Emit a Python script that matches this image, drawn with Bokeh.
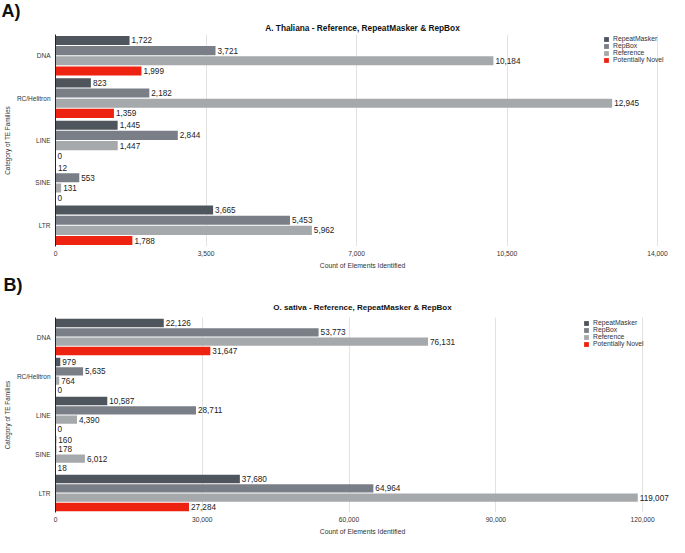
from bokeh.plotting import figure
from bokeh.models import (ColumnDataSource, LabelSet, Title, FactorRange, Range1d,
                          FixedTicker, NumeralTickFormatter)
from bokeh.core.properties import value
from bokeh.transform import dodge
from bokeh.layouts import column
from bokeh.embed import file_html
from bokeh.resources import INLINE

categories = ["DNA", "RC/Helitron", "LINE", "SINE", "LTR"]
series_names = ["RepeatMasker", "RepBox", "Reference", "Potentially Novel"]
colors = ["#4f555d", "#7a7f87", "#a6a9ab", "#ee2211"]

a_repeatmasker = [1722, 823, 1445, 12, 3665]
a_repbox = [3721, 2182, 2844, 553, 5453]
a_reference = [10184, 12945, 1447, 131, 5962]
a_novel = [1999, 1359, 0, 0, 1788]
a_ticks = [0, 3500, 7000, 10500, 14000]
a_title = "A. Thaliana - Reference, RepeatMasker & RepBox"

b_repeatmasker = [22126, 979, 10587, 160, 37680]
b_repbox = [53773, 5635, 28711, 178, 64964]
b_reference = [76131, 764, 4390, 6012, 119007]
b_novel = [31647, 0, 0, 18, 27284]
b_ticks = [0, 30000, 60000, 90000, 120000]
b_title = "O. sativa - Reference, RepeatMasker & RepBox"

FONT = "Liberation Sans"
offsets = [0.36, 0.12, -0.12, -0.36]
BAR_H = 0.215


def make_panel(letter, title, series, ticks, x_end, height, border_left,
               letter_standoff, title_standoff, title_size, legend_loc):
    p = figure(width=669, height=height, output_backend="svg", toolbar_location=None,
               y_range=FactorRange(factors=categories[::-1], range_padding=0),
               x_range=Range1d(ticks[0], x_end),
               min_border_top=0, min_border_bottom=0, min_border_left=border_left,
               min_border_right=0)
    p.outline_line_color = None
    p.background_fill_color = None
    p.border_fill_color = None

    for name, vals, col, off in zip(series_names, series, colors, offsets):
        src = ColumnDataSource(dict(cat=categories, val=vals,
                                    lbl=[f"{v:,}" for v in vals]))
        p.hbar(y=dodge("cat", off, range=p.y_range), right="val", left=0,
               height=BAR_H, source=src, color=col, line_color=None,
               legend_label=name)
        p.add_layout(LabelSet(x="val", y=dodge("cat", off, range=p.y_range),
                              text="lbl", source=src, x_offset=2,
                              text_baseline="middle", text_font=value(FONT),
                              text_font_size="8.2px", text_color="#222222"))

    p.xaxis.ticker = FixedTicker(ticks=ticks)
    p.xaxis.formatter = NumeralTickFormatter(format="0,0")
    p.xaxis.axis_line_color = None
    p.xaxis.major_tick_line_color = None
    p.xaxis.minor_tick_line_color = None
    p.xaxis.major_tick_out = 0
    p.xaxis.major_tick_in = 0
    p.xaxis.minor_tick_out = 0
    p.xaxis.major_label_standoff = 4
    p.xaxis.major_label_text_font = FONT
    p.xaxis.major_label_text_font_size = "6.7px"
    p.xaxis.major_label_text_color = "#333333"
    p.xaxis.axis_label = "Count of Elements Identified"
    p.xaxis.axis_label_text_font = FONT
    p.xaxis.axis_label_text_font_size = "6.8px"
    p.xaxis.axis_label_text_font_style = "normal"
    p.xaxis.axis_label_text_color = "#333333"
    p.xaxis.axis_label_standoff = 3

    p.yaxis.axis_line_color = "#222222"
    p.yaxis.major_tick_line_color = None
    p.yaxis.minor_tick_line_color = None
    p.yaxis.major_tick_out = 0
    p.yaxis.major_tick_in = 0
    p.yaxis.minor_tick_out = 0
    p.yaxis.major_label_standoff = 5
    p.yaxis.major_label_text_font = FONT
    p.yaxis.major_label_text_font_size = "6.5px"
    p.yaxis.major_label_text_color = "#333333"
    p.yaxis.axis_label = "Category of TE Families"
    p.yaxis.axis_label_text_font = FONT
    p.yaxis.axis_label_text_font_size = "6.4px"
    p.yaxis.axis_label_text_font_style = "normal"
    p.yaxis.axis_label_text_color = "#333333"
    p.yaxis.axis_label_standoff = 3

    p.xgrid.ticker = FixedTicker(ticks=ticks)
    p.xgrid.grid_line_color = "#e2e2e2"
    p.ygrid.grid_line_color = None

    lg = p.legend[0]
    lg.location = legend_loc
    lg.margin = 0
    lg.padding = 0
    lg.spacing = 0
    lg.border_line_color = None
    lg.background_fill_alpha = 0
    lg.label_text_font = FONT
    lg.label_text_font_size = "6.8px"
    lg.label_text_color = "#333333"
    lg.label_height = 7
    lg.glyph_height = 6
    lg.glyph_width = 6
    lg.label_standoff = 4

    # panel letter (outermost title) and chart title (next to the frame)
    p.title.text = letter
    p.title.align = "left"
    p.title.offset = -border_left
    p.title.text_font = FONT
    p.title.text_font_size = "18px"
    p.title.text_font_style = "bold"
    p.title.text_color = "#111111"
    p.title.standoff = letter_standoff
    p.add_layout(Title(text=title, align="center", text_font=FONT,
                       text_font_size=title_size, text_font_style="bold",
                       text_color="#111111", standoff=title_standoff), "above")
    return p


pa = make_panel("A)", a_title, [a_repeatmasker, a_repbox, a_reference, a_novel], a_ticks,
                14279, 271, 54, -3, 3, "8.3px", (548, 183))
pb = make_panel("B)", b_title, [b_repeatmasker, b_repbox, b_reference, b_novel], b_ticks,
                125490, 266, 52, 2, 11, "8.0px", (528, 165))

layout = column(pa, pb, spacing=0)
open("out.html", "w").write(file_html(layout, INLINE))
